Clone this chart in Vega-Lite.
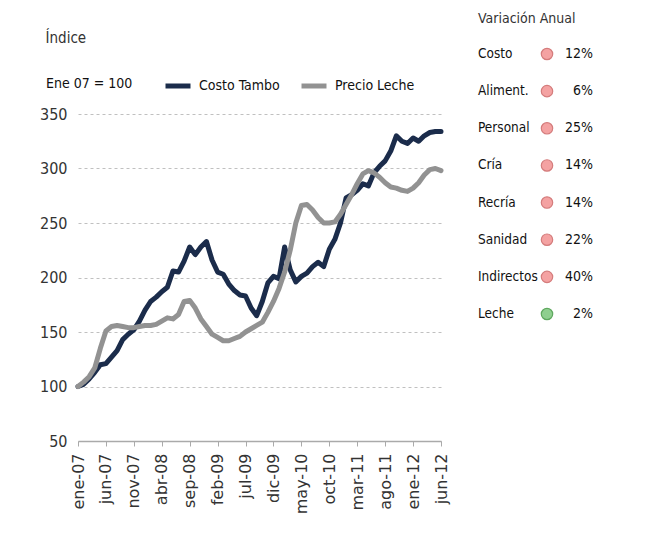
{
  "$schema": "https://vega.github.io/schema/vega-lite/v6.json",
  "padding": {"left": 39, "top": 11, "right": 5, "bottom": 5},
  "spacing": 29,
  "config": {
    "view": {"stroke": null},
    "font": "DejaVu Sans Condensed"
  },
  "hconcat": [
    {
      "width": 363,
      "height": 327,
      "title": {
        "text": "Índice",
        "anchor": "start",
        "dx": 6,
        "offset": 60,
        "fontSize": 15,
        "fontWeight": "normal",
        "color": "#333333"
      },
      "data": {
        "values": [
          {"mes": "ene-07", "Costo Tambo": 100, "Precio Leche": 100},
          {"mes": "feb-07", "Costo Tambo": 102, "Precio Leche": 104},
          {"mes": "mar-07", "Costo Tambo": 107, "Precio Leche": 109},
          {"mes": "abr-07", "Costo Tambo": 113, "Precio Leche": 117},
          {"mes": "may-07", "Costo Tambo": 120, "Precio Leche": 135},
          {"mes": "jun-07", "Costo Tambo": 121, "Precio Leche": 151},
          {"mes": "jul-07", "Costo Tambo": 127, "Precio Leche": 155},
          {"mes": "ago-07", "Costo Tambo": 133, "Precio Leche": 156},
          {"mes": "sep-07", "Costo Tambo": 143, "Precio Leche": 155},
          {"mes": "oct-07", "Costo Tambo": 148, "Precio Leche": 154},
          {"mes": "nov-07", "Costo Tambo": 152, "Precio Leche": 154},
          {"mes": "dic-07", "Costo Tambo": 160, "Precio Leche": 155},
          {"mes": "ene-08", "Costo Tambo": 170, "Precio Leche": 156},
          {"mes": "feb-08", "Costo Tambo": 178, "Precio Leche": 156},
          {"mes": "mar-08", "Costo Tambo": 182, "Precio Leche": 157},
          {"mes": "abr-08", "Costo Tambo": 187, "Precio Leche": 160},
          {"mes": "may-08", "Costo Tambo": 191, "Precio Leche": 163},
          {"mes": "jun-08", "Costo Tambo": 206, "Precio Leche": 162},
          {"mes": "jul-08", "Costo Tambo": 205, "Precio Leche": 166},
          {"mes": "ago-08", "Costo Tambo": 215, "Precio Leche": 178},
          {"mes": "sep-08", "Costo Tambo": 228, "Precio Leche": 179},
          {"mes": "oct-08", "Costo Tambo": 221, "Precio Leche": 172},
          {"mes": "nov-08", "Costo Tambo": 228, "Precio Leche": 162},
          {"mes": "dic-08", "Costo Tambo": 233, "Precio Leche": 155},
          {"mes": "ene-09", "Costo Tambo": 216, "Precio Leche": 148},
          {"mes": "feb-09", "Costo Tambo": 205, "Precio Leche": 145},
          {"mes": "mar-09", "Costo Tambo": 203, "Precio Leche": 142},
          {"mes": "abr-09", "Costo Tambo": 194, "Precio Leche": 142},
          {"mes": "may-09", "Costo Tambo": 188, "Precio Leche": 144},
          {"mes": "jun-09", "Costo Tambo": 184, "Precio Leche": 146},
          {"mes": "jul-09", "Costo Tambo": 183, "Precio Leche": 150},
          {"mes": "ago-09", "Costo Tambo": 172, "Precio Leche": 153},
          {"mes": "sep-09", "Costo Tambo": 165, "Precio Leche": 156},
          {"mes": "oct-09", "Costo Tambo": 178, "Precio Leche": 159},
          {"mes": "nov-09", "Costo Tambo": 195, "Precio Leche": 168},
          {"mes": "dic-09", "Costo Tambo": 201, "Precio Leche": 178},
          {"mes": "ene-10", "Costo Tambo": 199, "Precio Leche": 190},
          {"mes": "feb-10", "Costo Tambo": 228, "Precio Leche": 205},
          {"mes": "mar-10", "Costo Tambo": 207, "Precio Leche": 225},
          {"mes": "abr-10", "Costo Tambo": 196, "Precio Leche": 250},
          {"mes": "may-10", "Costo Tambo": 201, "Precio Leche": 266},
          {"mes": "jun-10", "Costo Tambo": 204, "Precio Leche": 267},
          {"mes": "jul-10", "Costo Tambo": 210, "Precio Leche": 262},
          {"mes": "ago-10", "Costo Tambo": 214, "Precio Leche": 255},
          {"mes": "sep-10", "Costo Tambo": 210, "Precio Leche": 250},
          {"mes": "oct-10", "Costo Tambo": 226, "Precio Leche": 250},
          {"mes": "nov-10", "Costo Tambo": 235, "Precio Leche": 251},
          {"mes": "dic-10", "Costo Tambo": 250, "Precio Leche": 258},
          {"mes": "ene-11", "Costo Tambo": 273, "Precio Leche": 267},
          {"mes": "feb-11", "Costo Tambo": 276, "Precio Leche": 276},
          {"mes": "mar-11", "Costo Tambo": 280, "Precio Leche": 286},
          {"mes": "abr-11", "Costo Tambo": 286, "Precio Leche": 295},
          {"mes": "may-11", "Costo Tambo": 284, "Precio Leche": 298},
          {"mes": "jun-11", "Costo Tambo": 296, "Precio Leche": 296},
          {"mes": "jul-11", "Costo Tambo": 302, "Precio Leche": 292},
          {"mes": "ago-11", "Costo Tambo": 307, "Precio Leche": 287},
          {"mes": "sep-11", "Costo Tambo": 316, "Precio Leche": 283},
          {"mes": "oct-11", "Costo Tambo": 330, "Precio Leche": 282},
          {"mes": "nov-11", "Costo Tambo": 325, "Precio Leche": 280},
          {"mes": "dic-11", "Costo Tambo": 323, "Precio Leche": 279},
          {"mes": "ene-12", "Costo Tambo": 328, "Precio Leche": 282},
          {"mes": "feb-12", "Costo Tambo": 325, "Precio Leche": 287},
          {"mes": "mar-12", "Costo Tambo": 330, "Precio Leche": 294},
          {"mes": "abr-12", "Costo Tambo": 333, "Precio Leche": 299},
          {"mes": "may-12", "Costo Tambo": 334, "Precio Leche": 300},
          {"mes": "jun-12", "Costo Tambo": 334, "Precio Leche": 298}
        ]
      },
      "transform": [
        {"fold": ["Costo Tambo", "Precio Leche"], "as": ["serie", "valor"]}
      ],
      "mark": {"type": "line", "strokeWidth": 5, "strokeCap": "round", "strokeJoin": "round"},
      "encoding": {
        "x": {
          "field": "mes",
          "type": "ordinal",
          "sort": null,
          "scale": {"type": "point", "padding": 0},
          "axis": {
            "title": null,
            "values": ["ene-07", "jun-07", "nov-07", "abr-08", "sep-08", "feb-09", "jul-09", "dic-09", "may-10", "oct-10", "mar-11", "ago-11", "ene-12", "jun-12"],
            "labelAngle": -90,
            "labelFont": "DejaVu Sans",
            "labelFontSize": 16,
            "labelColor": "#333333",
            "labelPadding": 7,
            "domainColor": "#aaaaaa",
            "domainWidth": 1.5,
            "tickColor": "#aaaaaa",
            "tickSize": 5,
            "grid": false
          }
        },
        "y": {
          "field": "valor",
          "type": "quantitative",
          "scale": {"domain": [50, 350], "nice": false, "zero": false},
          "axis": {
            "title": null,
            "values": [50, 100, 150, 200, 250, 300, 350],
            "domain": false,
            "ticks": false,
            "gridDash": [3, 3],
            "gridColor": "#c0c0c0",
            "labelFontSize": 16,
            "labelColor": "#333333",
            "labelPadding": 11
          }
        },
        "color": {
          "field": "serie",
          "type": "nominal",
          "scale": {"domain": ["Costo Tambo", "Precio Leche"], "range": ["#1b2c4b", "#929292"]},
          "legend": {
            "orient": "none",
            "legendX": -32,
            "legendY": -43,
            "direction": "horizontal",
            "title": "Ene 07 = 100",
            "titleOrient": "left",
            "titleFontWeight": "normal",
            "titleFontSize": 14,
            "titleColor": "#111111",
            "titlePadding": 30,
            "labelFontSize": 14,
            "labelColor": "#111111",
            "labelOffset": 6,
            "columnPadding": 11,
            "symbolType": "stroke",
            "symbolSize": 625,
            "symbolStrokeWidth": 5
          }
        }
      }
    },
    {
      "width": 115,
      "height": 260,
      "title": {
        "text": "Variación Anual",
        "anchor": "start",
        "offset": 20,
        "fontSize": 14,
        "fontWeight": "normal",
        "color": "#333333"
      },
      "data": {
        "values": [
          {"rubro": "Costo", "variacion": 0.12, "semaforo": "rojo"},
          {"rubro": "Aliment.", "variacion": 0.06, "semaforo": "rojo"},
          {"rubro": "Personal", "variacion": 0.25, "semaforo": "rojo"},
          {"rubro": "Cría", "variacion": 0.14, "semaforo": "rojo"},
          {"rubro": "Recría", "variacion": 0.14, "semaforo": "rojo"},
          {"rubro": "Sanidad", "variacion": 0.22, "semaforo": "rojo"},
          {"rubro": "Indirectos", "variacion": 0.40, "semaforo": "rojo"},
          {"rubro": "Leche", "variacion": 0.02, "semaforo": "verde"}
        ]
      },
      "encoding": {
        "y": {
          "field": "rubro",
          "type": "ordinal",
          "sort": null,
          "scale": {"type": "point", "padding": 0},
          "axis": null
        }
      },
      "layer": [
        {
          "mark": {"type": "text", "align": "left", "baseline": "middle", "fontSize": 13.5, "color": "#111111", "yOffset": -60},
          "encoding": {
            "x": {"datum": 0, "type": "quantitative", "scale": {"domain": [0, 1]}, "axis": null},
            "text": {"field": "rubro"}
          }
        },
        {
          "mark": {"type": "circle", "size": 130, "strokeWidth": 1.2, "opacity": 1, "yOffset": -60},
          "encoding": {
            "x": {"datum": 0.6, "type": "quantitative"},
            "fill": {
              "field": "semaforo",
              "type": "nominal",
              "scale": {"domain": ["rojo", "verde"], "range": ["#f4a2a2", "#8fcf8f"]},
              "legend": null
            },
            "stroke": {
              "field": "semaforo",
              "type": "nominal",
              "scale": {"domain": ["rojo", "verde"], "range": ["#d47c7c", "#5fa85f"]},
              "legend": null
            }
          }
        },
        {
          "mark": {"type": "text", "align": "right", "baseline": "middle", "fontSize": 14, "color": "#111111", "yOffset": -60},
          "encoding": {
            "x": {"datum": 1, "type": "quantitative"},
            "text": {"field": "variacion", "type": "quantitative", "format": ".0%"}
          }
        }
      ]
    }
  ]
}
